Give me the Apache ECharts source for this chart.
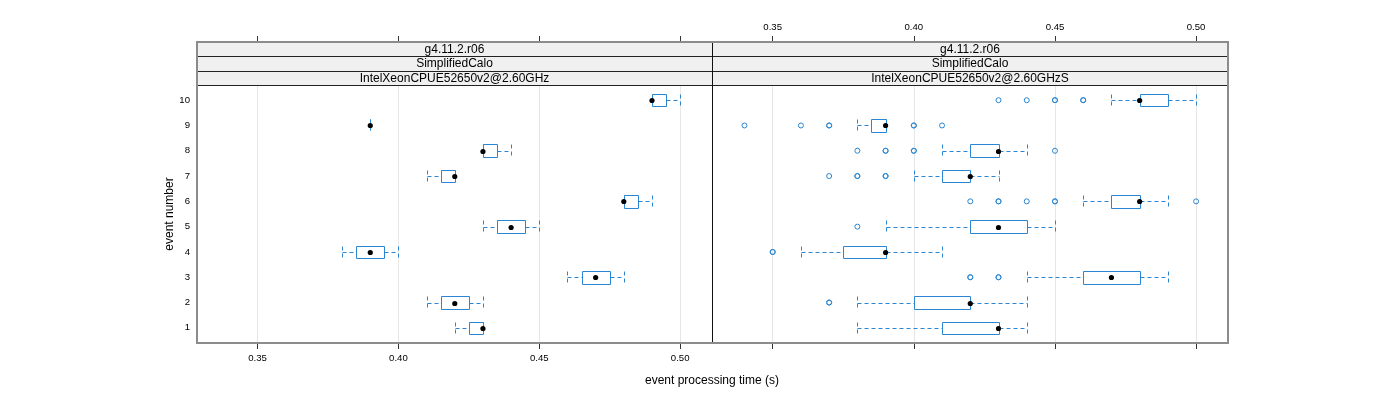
<!DOCTYPE html>
<html>
<head>
<meta charset="utf-8">
<script src="https://cdn.jsdelivr.net/npm/echarts@6/dist/echarts.min.js"></script>
<style>html,body{margin:0;padding:0;background:#fff}#c{width:1400px;height:400px}</style>
</head>
<body>
<div id="c"></div>
<script>
// ---- data ----
const events = [1, 2, 3, 4, 5, 6, 7, 8, 9, 10];
const xTicks = [0.35, 0.40, 0.45, 0.50];
const stripLeft = ["g4.11.2.r06", "SimplifiedCalo", "IntelXeonCPUE52650v2@2.60GHz"];
const stripRight = ["g4.11.2.r06", "SimplifiedCalo", "IntelXeonCPUE52650v2@2.60GHzS"];

// left panel (IntelXeonCPUE52650v2@2.60GHz)
const leftMin = [0.42, 0.41, 0.46, 0.38, 0.43, 0.48, 0.41, 0.43, 0.39, 0.49];
const leftQ1  = [0.425, 0.415, 0.465, 0.385, 0.435, 0.48, 0.415, 0.43, 0.39, 0.49];
const leftMed = [0.43, 0.42, 0.47, 0.39, 0.44, 0.48, 0.42, 0.43, 0.39, 0.49];
const leftQ3  = [0.43, 0.425, 0.475, 0.395, 0.445, 0.485, 0.42, 0.435, 0.39, 0.495];
const leftMax = [0.43, 0.43, 0.48, 0.40, 0.45, 0.49, 0.42, 0.44, 0.39, 0.50];

// right panel (IntelXeonCPUE52650v2@2.60GHzS)
const rightMin = [0.38, 0.38, 0.44, 0.36, 0.39, 0.46, 0.40, 0.41, 0.38, 0.47];
const rightQ1  = [0.41, 0.40, 0.46, 0.375, 0.42, 0.47, 0.41, 0.42, 0.385, 0.48];
const rightMed = [0.43, 0.42, 0.47, 0.39, 0.43, 0.48, 0.42, 0.43, 0.39, 0.48];
const rightQ3  = [0.43, 0.42, 0.48, 0.39, 0.44, 0.48, 0.42, 0.43, 0.39, 0.49];
const rightMax = [0.44, 0.44, 0.49, 0.41, 0.45, 0.49, 0.43, 0.44, 0.39, 0.50];

// right panel outliers (repeated values drawn several times)
const outEvent = [10,10,10,10,10,10, 9,9,9,9,9,9,9, 8,8,8,8,8,8, 7,7,7,7,7, 6,6,6,6,6,6,6, 5, 4,4, 3,3,3,3, 2,2];
const outValue = [0.43,0.44,0.45,0.45,0.46,0.46,
                  0.34,0.36,0.37,0.37,0.40,0.40,0.41,
                  0.38,0.39,0.39,0.40,0.40,0.45,
                  0.37,0.38,0.38,0.39,0.39,
                  0.42,0.43,0.43,0.44,0.45,0.45,0.50,
                  0.38,
                  0.35,0.35,
                  0.42,0.42,0.43,0.43,
                  0.37,0.37];

const XMIN = 0.3285, XMAX = 0.5113;
const BLUE = '#2a86d2';
const FONT = 'Liberation Sans, Arial, sans-serif';

function boxData(mn, q1, md, q3, mx) {
  return events.map((e, i) => [mn[i], q1[i], md[i], q3[i], mx[i], e]);
}

function renderBox(params, api) {
  const y = api.value(5);
  const c = v => api.coord([v, y]);
  const yt = api.coord([api.value(2), y + 0.25])[1];
  const yb = api.coord([api.value(2), y - 0.25])[1];
  const cy = Math.round(c(api.value(2))[1]) + 0.5;
  const r = v => Math.round(v) + 0.5;
  const xMin = r(c(api.value(0))[0]), xQ1 = r(c(api.value(1))[0]),
        xMed = c(api.value(2))[0], xQ3 = r(c(api.value(3))[0]), xMax = r(c(api.value(4))[0]);
  const top = Math.round(yt) + 0.5, bot = Math.round(yb) + 0.5;
  const dash = { stroke: BLUE, lineWidth: 1, lineDash: [4, 3] };
  const children = [
    { type: 'line', shape: { x1: xMin, y1: cy, x2: xQ1, y2: cy }, style: dash },
    { type: 'line', shape: { x1: xQ3, y1: cy, x2: xMax, y2: cy }, style: dash },
    { type: 'line', shape: { x1: xMin, y1: top, x2: xMin, y2: bot }, style: dash },
    { type: 'line', shape: { x1: xMax, y1: top, x2: xMax, y2: bot }, style: dash }
  ];
  if (xQ3 > xQ1) {
    children.push({ type: 'rect', shape: { x: xQ1, y: top, width: xQ3 - xQ1, height: bot - top },
      style: { fill: 'none', stroke: BLUE, lineWidth: 1 } });
  }
  children.push({ type: 'circle', shape: { cx: xMed, cy: cy, r: 2.6 }, style: { fill: '#000' } });
  return { type: 'group', children: children };
}

function xAxisCfg(grid, pos, labels, split, offset) {
  return {
    type: 'value', gridIndex: grid, position: pos, min: XMIN, max: XMAX, offset: offset || 0,
    axisLine: { show: false },
    axisTick: { show: true, length: 6, customValues: xTicks, lineStyle: { color: '#333' } },
    axisLabel: { show: labels, customValues: xTicks, fontSize: 9.6, color: '#000', margin: 10,
      fontFamily: FONT, formatter: v => v.toFixed(2) },
    splitLine: { show: split, lineStyle: { color: '#e6e6e6', width: 1 } }
  };
}

const L0 = 197, MID = 712, R1 = 1228, T0 = 42, PT = 85, PB = 343;
const stripRows = [[42, 56], [56, 71], [71, 85]];
const graphics = [];
[[L0, MID, stripLeft], [MID, R1, stripRight]].forEach(([x0, x1, texts]) => {
  stripRows.forEach(([y0, y1], k) => {
    graphics.push({ type: 'rect', shape: { x: x0 + 0.5, y: y0 + 0.5, width: x1 - x0, height: y1 - y0 },
      style: { fill: '#f0f0f0', stroke: '#222', lineWidth: 1 }, z: 10 });
    graphics.push({ type: 'text', x: (x0 + x1) / 2, y: (y0 + y1) / 2 + 0.5,
      style: { text: texts[k], fill: '#000', font: '12px ' + FONT, align: 'center', verticalAlign: 'middle' }, z: 11 });
  });
});
graphics.push({ type: 'line', shape: { x1: MID + 0.5, y1: T0, x2: MID + 0.5, y2: PB }, style: { stroke: '#111', lineWidth: 1 }, z: 12 });
graphics.push({ type: 'rect', shape: { x: L0, y: T0, width: R1 - L0, height: PB - T0 },
  style: { fill: 'none', stroke: '#8c8c8c', lineWidth: 2 }, z: 13 });
graphics.push({ type: 'text', x: 712, y: 381,
  style: { text: 'event processing time (s)', fill: '#000', font: '12px ' + FONT, align: 'center', verticalAlign: 'middle' }, z: 11 });

const chart = echarts.init(document.getElementById('c'));
chart.setOption({
  animation: false,
  backgroundColor: '#fff',
  grid: [
    { left: L0, top: PT, width: MID - L0, height: PB - PT },
    { left: MID, top: PT, width: R1 - MID, height: PB - PT }
  ],
  xAxis: [
    xAxisCfg(0, 'bottom', true, true, 0),
    xAxisCfg(0, 'top', false, false, PT - T0),
    xAxisCfg(1, 'bottom', false, true, 0),
    xAxisCfg(1, 'top', true, false, PT - T0)
  ],
  yAxis: [
    { type: 'value', gridIndex: 0, min: 0.4, max: 10.6,
      axisLine: { show: false }, axisTick: { show: false }, splitLine: { show: false },
      axisLabel: { customValues: events, fontSize: 9.6, color: '#000', margin: 7, fontFamily: FONT },
      name: 'event number', nameLocation: 'middle', nameGap: 19, nameRotate: 90,
      nameTextStyle: { fontSize: 12, color: '#000', fontFamily: FONT } },
    { type: 'value', gridIndex: 1, min: 0.4, max: 10.6,
      axisLine: { show: false }, axisTick: { show: false }, splitLine: { show: false },
      axisLabel: { show: false } }
  ],
  graphic: graphics,
  series: [
    { type: 'custom', xAxisIndex: 0, yAxisIndex: 0, renderItem: renderBox, clip: false,
      data: boxData(leftMin, leftQ1, leftMed, leftQ3, leftMax), encode: { x: [0, 1, 2, 3, 4], y: 5 } },
    { type: 'custom', xAxisIndex: 2, yAxisIndex: 1, renderItem: renderBox, clip: false,
      data: boxData(rightMin, rightQ1, rightMed, rightQ3, rightMax), encode: { x: [0, 1, 2, 3, 4], y: 5 } },
    { type: 'scatter', xAxisIndex: 2, yAxisIndex: 1, symbol: 'circle', symbolSize: 5,
      itemStyle: { color: 'rgba(0,0,0,0)', borderColor: BLUE, borderWidth: 1, opacity: 1 },
      data: outValue.map((v, i) => [v, outEvent[i]]) }
  ]
});
</script>
</body>
</html>
